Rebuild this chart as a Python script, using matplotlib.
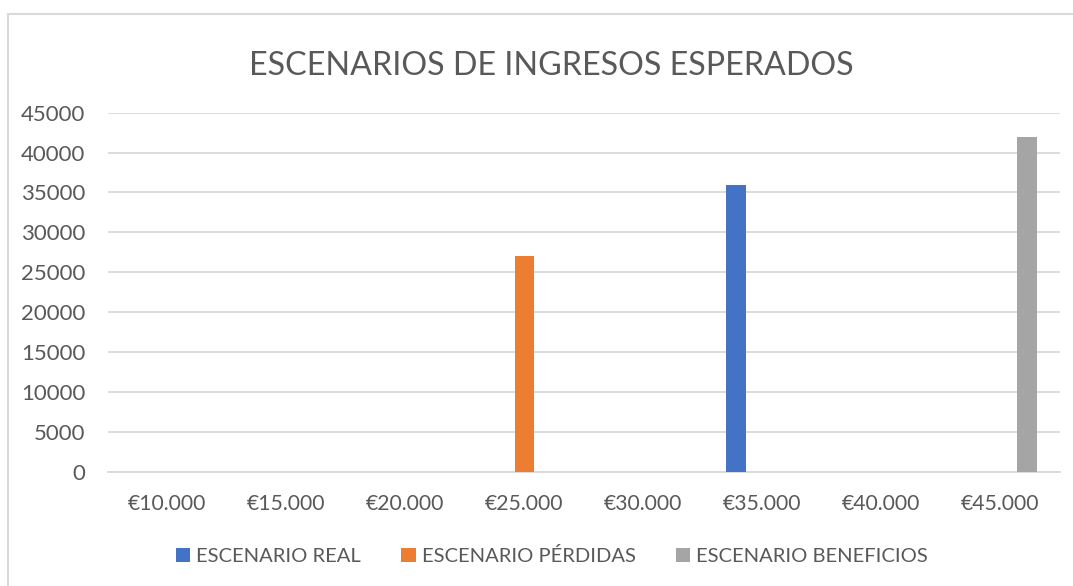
import matplotlib
matplotlib.use('Agg')
import matplotlib.pyplot as plt
from matplotlib.patches import Patch
from matplotlib.lines import Line2D
import numpy as np

plt.rcParams['font.family'] = ['Lato', 'DejaVu Sans']

###########################################################
# Data
###########################################################

categories = ['€10.000', '€15.000', '€20.000', '€25.000',
              '€30.000', '€35.000', '€40.000', '€45.000']
escenario_real = [0, 0, 0, 0, 0, 36000, 0, 0]
escenario_perdidas = [0, 0, 0, 27000, 0, 0, 0, 0]
escenario_beneficios = [0, 0, 0, 0, 0, 0, 0, 42000]
series_names = ['ESCENARIO REAL', 'ESCENARIO PÉRDIDAS', 'ESCENARIO BENEFICIOS']
y_ticks = [0, 5000, 10000, 15000, 20000, 25000, 30000, 35000, 40000, 45000]

colors = ['#4472C4', '#ED7D31', '#A5A5A5']
text_color = '#595959'
grid_color = '#D9D9D9'

###########################################################
# Plot
###########################################################

W, H = 1073, 586
fig = plt.figure(figsize=(W / 100, H / 100), dpi=100)
ax = fig.add_axes([108 / W, 1 - 471.7 / H, (1060 - 108) / W, (471.7 - 112.7) / H])

x = np.arange(len(categories))
bar_w = 0.168
offset = 0.22
for vals, off, c in zip([escenario_real, escenario_perdidas, escenario_beneficios],
                        [-offset, 0, offset], colors):
    ax.bar(x + off, vals, width=bar_w, color=c, zorder=3)

ax.set_xlim(-0.5, len(categories) - 0.5)
ax.set_ylim(0, 45000)
ax.set_yticks(y_ticks)
ax.set_yticklabels([str(v) for v in y_ticks])
ax.set_xticks(x)
ax.set_xticklabels(categories)
ax.tick_params(axis='both', length=0, labelsize=16, labelcolor=text_color)
ax.tick_params(axis='x', labelsize=15.2, pad=16)
ax.tick_params(axis='y', pad=16.5)
ax.yaxis.grid(True, color=grid_color, linewidth=1.3, zorder=0)
for s in ['top', 'right', 'left']:
    ax.spines[s].set_visible(False)
ax.spines['bottom'].set_color(grid_color)
ax.spines['bottom'].set_linewidth(1.3)

fig.text(551 / W, 1 - 66 / H, 'ESCENARIOS DE INGRESOS ESPERADOS',
         ha='center', va='center', fontsize=23.2, color=text_color)

handles = [Patch(facecolor=c, edgecolor='none') for c in colors]
fig.legend(handles, series_names, loc='center', ncol=3,
           bbox_to_anchor=(552 / W, 1 - 556 / H), frameon=False,
           fontsize=14.5, labelcolor=text_color,
           handlelength=0.7, handleheight=0.7, handletextpad=0.3,
           columnspacing=2.0)

# chart border (left and top edges visible)
fig.add_artist(Line2D([7.5 / W, 7.5 / W], [0, 1 - 14 / H], color=grid_color,
                      linewidth=1.5, transform=fig.transFigure))
fig.add_artist(Line2D([7.5 / W, 1], [1 - 14 / H, 1 - 14 / H], color=grid_color,
                      linewidth=1.5, transform=fig.transFigure))

plt.savefig('out.png', dpi=100, facecolor='white')
